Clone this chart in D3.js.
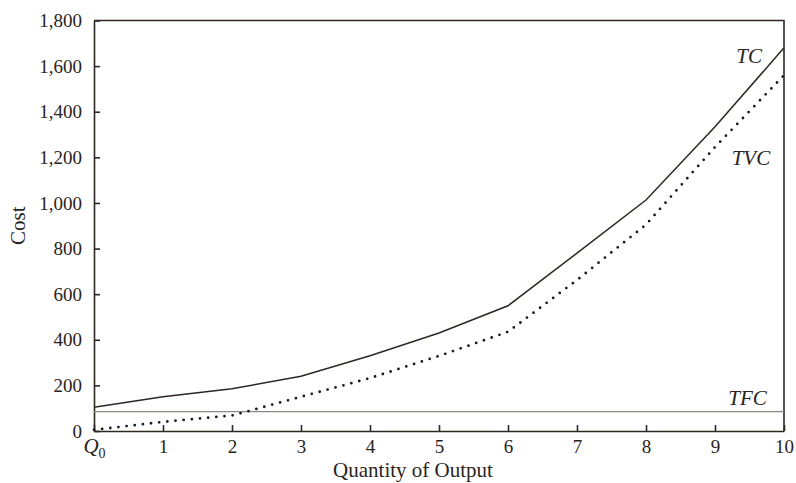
<!DOCTYPE html>
<html>
<head>
<meta charset="utf-8">
<script src="https://cdn.jsdelivr.net/npm/d3@7"></script>
<style>
  body { margin: 0; background: #fff; }
  svg text { font-family: "Liberation Serif", "DejaVu Serif", serif; fill: #2a2420; }
</style>
</head>
<body>
<svg class="chart" width="796" height="483"></svg>
<script>
// output levels, Q0..10
const quantity = [0, 1, 2, 3, 4, 5, 6, 7, 8, 9, 10];
// total cost
const tc = [104, 150, 185, 240, 330, 430, 549, 780, 1013, 1334, 1680];
// total variable cost
const tvc = [5, 40, 68, 150, 232, 329, 435, 662, 905, 1245, 1560];
// total fixed cost
const tfc = 85;
const yTicks = [0, 200, 400, 600, 800, 1000, 1200, 1400, 1600, 1800];

//canvas margins
let mLeft = 94, mRight = 784, mTop = 20.5, mBottom = 431;
const ink = "#2e2823";

const xScale = d3.scaleLinear().domain([0, 10]).range([mLeft, mRight]);
const yScale = d3.scaleLinear().domain([0, 1800]).range([mBottom, mTop]);

const svg = d3.select(".chart");

// frame top + right
svg.append("path")
  .attr("d", `M${mLeft},${mTop}H${mRight}V${mBottom}`)
  .attr("fill", "none")
  .attr("stroke", ink)
  .attr("stroke-width", 1.6);

// x axis, ticks pointing up
const xAxis = d3.axisBottom(xScale).tickValues(quantity).tickSizeInner(-6).tickSizeOuter(0).tickPadding(9);
const gx = svg.append("g")
  .attr("transform", `translate(0,${mBottom})`)
  .call(xAxis);
gx.selectAll("text")
  .style("font-size", "19px")
  .each(function (d) {
    const t = d3.select(this);
    if (d === 0) {
      t.text(null);
      t.append("tspan").style("font-style", "italic").style("font-size", "21px").text("Q");
      t.append("tspan").attr("dy", 5).style("font-size", "14px").text("0");
    }
  });

// y axis, ticks pointing right
const yAxis = d3.axisLeft(yScale).tickValues(yTicks).tickSizeInner(-6).tickSizeOuter(0).tickPadding(12).tickFormat(d3.format(","));
const gy = svg.append("g")
  .attr("transform", `translate(${mLeft},0)`)
  .call(yAxis);
gy.selectAll("text").style("font-size", "19px");

svg.selectAll(".domain, .tick line").attr("stroke", ink).attr("stroke-width", 1.6);

// TFC
svg.append("line")
  .attr("x1", xScale(0)).attr("x2", xScale(10))
  .attr("y1", yScale(tfc)).attr("y2", yScale(tfc))
  .attr("stroke", "#8a8a80")
  .attr("stroke-width", 1.4);

const line = d3.line()
  .x((d, i) => xScale(quantity[i]))
  .y(d => yScale(d));

// TC
svg.append("path")
  .datum(tc)
  .attr("fill", "none")
  .attr("stroke", ink)
  .attr("stroke-width", 1.5)
  .attr("d", line);

// TVC dotted
svg.append("path")
  .datum(tvc)
  .attr("fill", "none")
  .attr("stroke", "#1e1a17")
  .attr("stroke-width", 2.8)
  .attr("stroke-linecap", "round")
  .attr("stroke-dasharray", "0,8.2")
  .attr("d", line);

// curve labels
const labels = [
  { text: "TC", x: 9.68, y: 1615 },
  { text: "TVC", x: 9.8, y: 1168 },
  { text: "TFC", x: 9.75, y: 114 }
];
svg.selectAll(".lbl")
  .data(labels)
  .enter()
  .append("text")
  .attr("x", d => xScale(d.x))
  .attr("y", d => yScale(d.y))
  .attr("text-anchor", "end")
  .style("font-style", "italic")
  .style("font-size", "21px")
  .text(d => d.text);

// axis titles
svg.append("text")
  .attr("x", 413)
  .attr("y", 477)
  .attr("text-anchor", "middle")
  .style("font-size", "21px")
  .text("Quantity of Output");

svg.append("text")
  .attr("transform", `translate(25,${(mTop + mBottom) / 2}) rotate(-90)`)
  .attr("text-anchor", "middle")
  .style("font-size", "21px")
  .text("Cost");
</script>
</body>
</html>
